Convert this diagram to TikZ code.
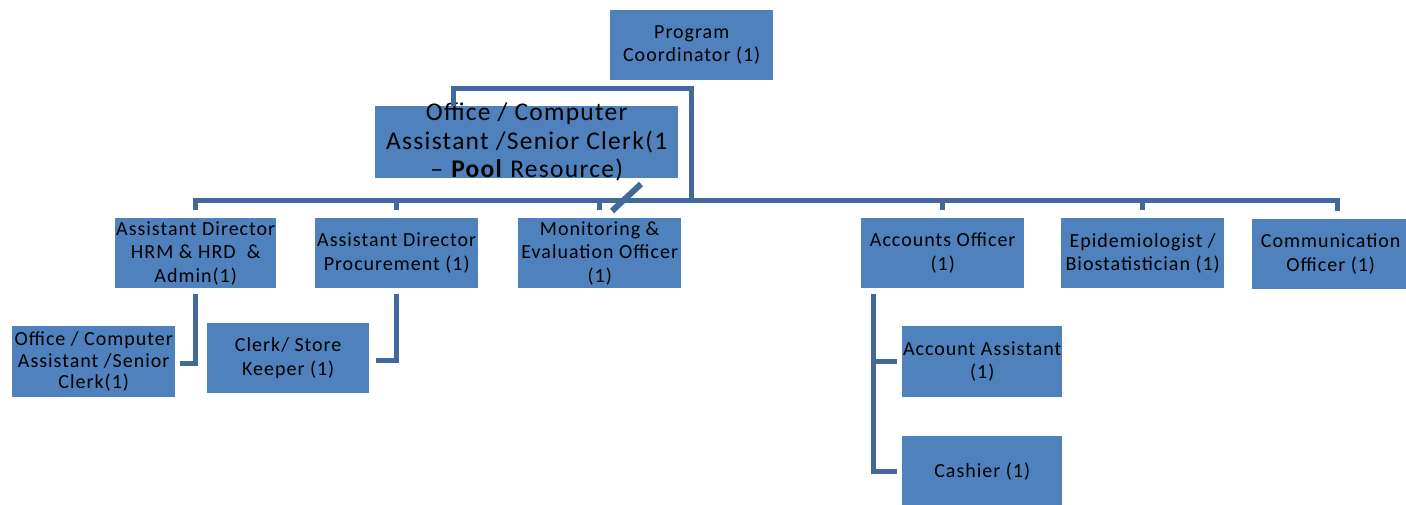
\documentclass[tikz,border=0pt]{standalone}
\usepackage{fontspec}
\setmainfont{Carlito}[LetterSpace=5]
\definecolor{boxblue}{HTML}{4F81BD}
\definecolor{lineblue}{HTML}{41699B}
\tikzset{
  box/.style={fill=boxblue, draw=none, inner sep=0pt, minimum width=163pt, minimum height=70pt, anchor=north west},
  txt/.style={align=center, inner sep=0pt, text=black, font=\fontsize{20}{23.5}\selectfont},
  bigtxt/.style={align=center, inner sep=0pt, text=black, font=\fontsize{25.5}{28.5}\selectfont},
  conn/.style={draw=lineblue, line width=5pt, line join=miter},
}
\begin{document}
\begin{tikzpicture}[x=1pt,y=-1pt]
\useasboundingbox (0,0) rectangle (1406,504);
\clip (0,0) rectangle (1406,504);
% boxes
\node[box] (pc) at (610,10) {};
\node[box, minimum width=303pt, minimum height=72pt] (pool) at (375,106) {};
\node[box, minimum width=161pt] (hrm) at (115,218) {};
\node[box] (proc) at (315,218) {};
\node[box] (me) at (518,218) {};
\node[box] (acc) at (861,218) {};
\node[box] (epi) at (1061,218) {};
\node[box] (com) at (1252,219) {};
\node[box, minimum height=71pt] (clk1) at (12,326) {};
\node[box, minimum width=162pt] (store) at (207,323) {};
\node[box, minimum width=160pt, minimum height=71pt] (aa) at (902,326) {};
\node[box, minimum width=160pt] (cash) at (902,436) {};
% texts
\node[txt] at (pc.center) {Program\\Coordinator (1)};
\node[bigtxt] at ([yshift=0pt]pool.center) {Office / Computer\\Assistant /Senior Clerk(1\\– \textbf{Pool} Resource)};
\node[txt] at (hrm.center) {Assistant Director\\HRM \& HRD \ \&\\Admin(1)};
\node[txt] at (proc.center) {Assistant Director\\Procurement (1)};
\node[txt] at (me.center) {Monitoring \&\\Evaluation Officer\\(1)};
\node[txt] at (acc.center) {Accounts Officer\\(1)};
\node[txt] at (epi.center) {Epidemiologist /\\Biostatistician (1)};
\node[txt] at ([xshift=-3pt]com.center) {Communication\\Officer (1)};
\node[txt, font=\fontsize{20}{21.5}\selectfont] at (clk1.center) {Office / Computer\\Assistant /Senior\\Clerk(1)};
\node[txt] at (store.center) {Clerk/ Store\\Keeper (1)};
\node[txt] at (aa.center) {Account Assistant\\(1)};
\node[txt] at (cash.center) {Cashier (1)};
% connectors
\coordinate (bus) at (0,200);
\coordinate (pcj) at ([yshift=-8pt]pc.south);
\draw[conn] ([xshift=78pt]pool.north west) |- (pcj) -- (pcj |- bus);
\draw[conn] ([yshift=8pt]hrm.north) -- (hrm.north |- bus) -- ([xshift=4pt]com.north |- bus) -- ([xshift=4pt,yshift=8pt]com.north);
\foreach \n in {proc,me,acc,epi}
  \draw[conn] (\n.north |- bus) -- ([yshift=8pt]\n.north);
\draw[conn] ([yshift=-6pt]hrm.south) |- ([xshift=5pt,yshift=-1.5pt]clk1.east);
\draw[conn] ([yshift=-6pt]proc.south) |- ([xshift=7pt,yshift=-2pt]store.east);
\coordinate (acctop) at ([xshift=12pt,yshift=-6pt]acc.south west);
\draw[conn] (acctop) |- ([xshift=-5pt]cash.west);
\draw[conn] (acctop |- aa.west) -- ([xshift=-5pt]aa.west);
% stray slash mark
\draw[conn, line width=6pt] (612,211) -- (641,184);
\end{tikzpicture}
\end{document}
